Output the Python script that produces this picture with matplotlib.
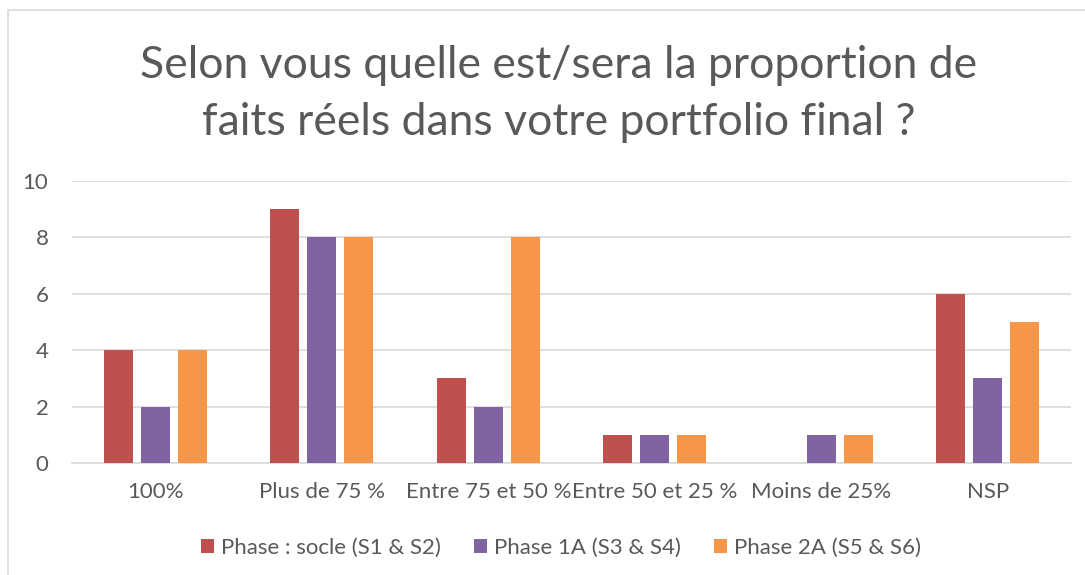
import numpy as np
import matplotlib.pyplot as plt
from matplotlib.patches import Rectangle

plt.rcParams['font.family'] = ['Lato', 'DejaVu Sans']

categories = ['100%', 'Plus de 75 %', 'Entre 75 et 50 %', 'Entre 50 et 25 %', 'Moins de 25%', 'NSP']
socle = [4, 9, 3, 1, 0, 6]
phase_1a = [2, 8, 2, 1, 1, 3]
phase_2a = [4, 8, 8, 1, 1, 5]
series_names = ['Phase : socle (S1 & S2)', 'Phase 1A (S3 & S4)', 'Phase 2A (S5 & S6)']
colors = ['#C0504D', '#8064A2', '#F79646']

fig = plt.figure(figsize=(10.85, 5.75), dpi=100)
ax = fig.add_axes([72 / 1085, 1 - 463 / 575, 999 / 1085, 282 / 575])

# cadre du graphique
fig.patches.append(Rectangle((8 / 1085, -0.01), 1.1, 1 - 10 / 575 + 0.01, transform=fig.transFigure,
                             fill=False, edgecolor='#D9D9D9', linewidth=1.2))

x = np.arange(len(categories))
w = 0.174
step = 0.222
for i, (vals, name, c) in enumerate(zip([socle, phase_1a, phase_2a], series_names, colors)):
    ax.bar(x + (i - 1) * step, vals, w, color=c, label=name, zorder=3)

ax.set_xlim(-0.5, len(categories) - 0.5)
ax.set_ylim(0, 10)
ax.set_yticks(range(0, 11, 2))
ax.set_xticks(x)
ax.set_xticklabels(categories)
ax.grid(axis='y', color='#D9D9D9', linewidth=1.2, zorder=0)
for s in ['top', 'right', 'left']:
    ax.spines[s].set_visible(False)
ax.spines['bottom'].set_color('#D9D9D9')
ax.spines['bottom'].set_linewidth(1.2)
ax.tick_params(length=0, colors='#595959', labelsize=16)
ax.tick_params(axis='y', pad=17)
ax.tick_params(axis='x', pad=14)

fig.text(0.515, 1 - 94 / 575, 'Selon vous quelle est/sera la proportion de\nfaits réels dans votre portfolio final ?',
         ha='center', va='center', fontsize=32, color='#595959', linespacing=1.5)

fig.legend(loc='center', bbox_to_anchor=(0.517, 1 - 548 / 575), ncol=3, frameon=False,
           fontsize=16, handlelength=0.6, handleheight=0.6, handletextpad=0.3,
           columnspacing=1.5, labelcolor='#595959')

fig.savefig('out.png', dpi=100)
